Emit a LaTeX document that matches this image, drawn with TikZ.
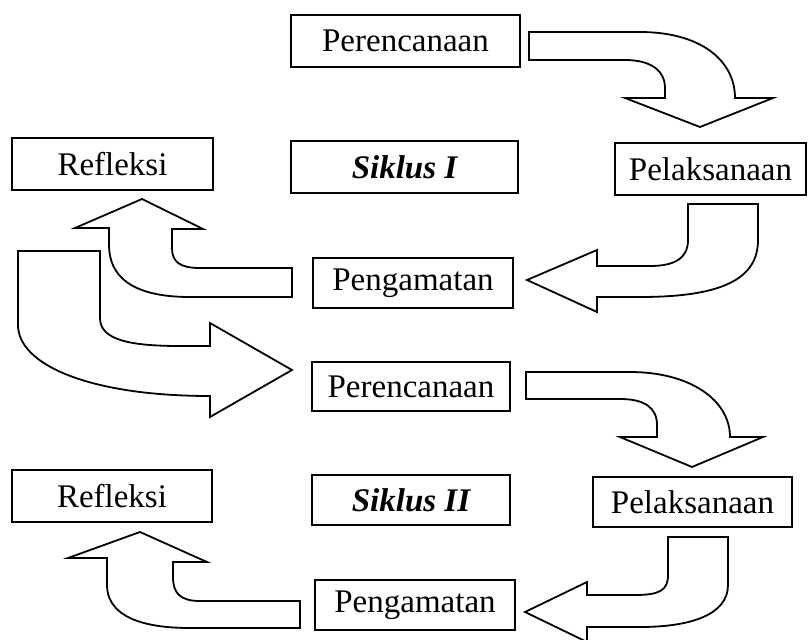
\documentclass[tikz,border=0pt]{standalone}
\usepackage{fontspec}
\setmainfont{Liberation Serif}
\begin{document}
\begin{tikzpicture}[x=1pt,y=-1pt,
  box/.style={draw, line width=2pt, inner sep=0pt, align=center,
    font=\fontsize{33}{38}\selectfont},
  blockarrow/.style={draw, line width=1.8pt, line join=miter, fill=white}]
\useasboundingbox (0,0) rectangle (809,640);
\clip (0,0) rectangle (809,640);
\fill[white] (0,0) rectangle (809,640);
% boxes
\node[box, minimum width=229pt, minimum height=52pt] (per1) at (405.5,41) {Perencanaan};
\node[box, minimum width=201pt, minimum height=52pt] (ref1) at (112.5,164) {Refleksi};
\node[box, minimum width=227pt, minimum height=52pt] (sik1) at (404.5,167) {\bfseries\itshape Siklus I};
\node[box, minimum width=191pt, minimum height=52pt] (pel1) at (710.5,169) {Pelaksanaan};
\node[box, minimum width=200pt, minimum height=50pt] (pen1) at (413,283) {Pengamatan};
\node[box, minimum width=198pt, minimum height=49pt] (per2) at (411,386.5) {Perencanaan};
\node[box, minimum width=200pt, minimum height=52pt] (ref2) at (112,496) {Refleksi};
\node[box, minimum width=198pt, minimum height=50pt] (sik2) at (411,500) {\bfseries\itshape Siklus II};
\node[box, minimum width=199pt, minimum height=50pt] (pel2) at (692.5,502) {Pelaksanaan};
\node[box, minimum width=200pt, minimum height=50pt] (pen2) at (415,605) {Pengamatan};
% arrow 1: Perencanaan -> Pelaksanaan
\draw[blockarrow] (529,32) -- (640,32) .. controls (700,32) and (735,60) .. (735,98)
  -- (773,98) -- (700,127) -- (625,98) -- (665,98) -- (665,88)
  .. controls (665,70) and (650,60) .. (625,60) -- (529,60) -- cycle;
% arrow 2: Pelaksanaan -> Pengamatan
\draw[blockarrow] (688,204) -- (758,204) -- (758,240) .. controls (758,280) and (720,297) .. (640,297)
  -- (597,297) -- (597,312) -- (527,280) -- (597,250) -- (597,266) -- (650,266)
  .. controls (675,266) and (688,258) .. (688,240) -- cycle;
% arrow 3: Pengamatan -> Refleksi
\draw[blockarrow] (292,268) -- (292,297) -- (190,297) .. controls (130,297) and (109,275) .. (109,245)
  -- (109,228) -- (75,228) -- (142,199) -- (203,229) -- (172,229) -- (172,248)
  .. controls (172,262) and (180,268) .. (200,268) -- cycle;
% arrow 4: Refleksi -> Perencanaan (cycle II)
\draw[blockarrow] (18,251) -- (100,251) -- (100,318) .. controls (100,340) and (130,346) .. (180,346)
  -- (210,346) -- (210,323) -- (292,370) -- (210,417) -- (210,396)
  .. controls (90,396) and (18,365) .. (18,325) -- cycle;
% arrow 5: Perencanaan -> Pelaksanaan
\draw[blockarrow] (526,372) -- (630,372) .. controls (690,372) and (730,400) .. (730,437)
  -- (763,437) -- (692,467) -- (620,437) -- (657,437) -- (657,425)
  .. controls (657,408) and (645,399) .. (620,399) -- (526,399) -- cycle;
% arrow 6: Pelaksanaan -> Pengamatan
\draw[blockarrow] (668,537) -- (728,537) -- (728,585) .. controls (728,615) and (690,627) .. (640,627)
  -- (587,627) -- (587,642) -- (525,612) -- (587,582) -- (587,595) -- (635,595)
  .. controls (660,595) and (668,590) .. (668,575) -- cycle;
% arrow 7: Pengamatan -> Refleksi
\draw[blockarrow] (300,601) -- (300,628) -- (190,628) .. controls (130,628) and (107,610) .. (107,585)
  -- (107,558) -- (68,558) -- (140,532) -- (207,562) -- (173,562) -- (173,577)
  .. controls (173,593) and (180,601) .. (200,601) -- cycle;
\end{tikzpicture}
\end{document}
